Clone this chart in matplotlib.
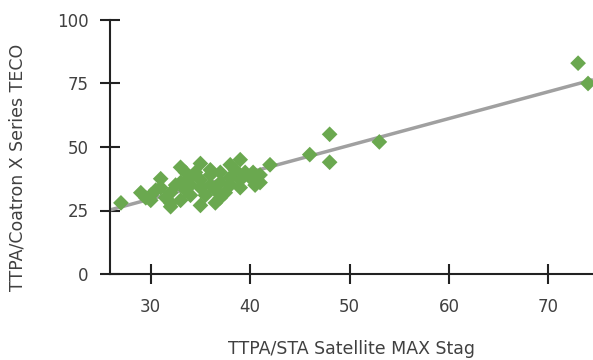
import numpy as np
import matplotlib
matplotlib.use("Agg")
import matplotlib.pyplot as plt

# Data
x_vals = [27, 29, 29.5, 30, 30.5, 31, 31, 31.5, 32, 32, 32.5, 33, 33, 33, 33.5, 34, 34,
          34.5, 35, 35, 35, 35, 35.5, 36, 36, 36.5, 37, 37, 37.5, 38, 38, 38, 38.5, 39,
          39, 39, 39.5, 40, 40.3, 40.5, 41, 41, 42, 33.5, 36, 34, 32, 30, 36.5, 37,
          46, 48, 48, 53, 73, 74]
y_vals = [28, 32, 30, 31, 33, 37.5, 34, 30, 26.5, 32, 35, 42, 29, 36, 33, 38, 31,
          40, 43.5, 27, 34, 37, 31, 39, 35, 33, 40, 36, 32, 43, 38, 35, 41, 45,
          37, 34, 40, 38, 40, 35, 36, 39, 43, 40, 41, 35, 28, 29, 28, 30,
          47, 55, 44, 52, 83, 75]
trend_slope = 1.055
trend_intercept = -2.1

x_ticks = [30, 40, 50, 60, 70]
y_ticks = [0, 25, 50, 75, 100]
x_label = "TTPA/STA Satellite MAX Stag"
y_label = "TTPA/Coatron X Series TECO"

marker_color = "#6aa84f"
line_color = "#a0a0a0"
axis_color = "#222222"
text_color = "#404040"

fig = plt.figure(figsize=(5.93, 3.60), dpi=100)
ax = fig.add_axes([110 / 593, 1 - 274 / 360, 1 - 110 / 593, (274 - 20) / 360])

xlim = (25.9, 74.5)
ax.set_xlim(*xlim)
ax.set_ylim(0, 100)

lx = np.array(xlim)
ax.plot(lx, trend_slope * lx + trend_intercept, color=line_color, lw=2.5, zorder=2,
        solid_capstyle="butt")
ax.scatter(x_vals, y_vals, marker="D", s=8 ** 2, color=marker_color,
           edgecolors="none", zorder=3, clip_on=True)

ax.set_xticks(x_ticks)
ax.set_yticks(y_ticks)
for s in ["top", "right"]:
    ax.spines[s].set_visible(False)
for s in ["left", "bottom"]:
    ax.spines[s].set_color(axis_color)
    ax.spines[s].set_linewidth(1.5)
ax.tick_params(axis="both", direction="inout", length=15, width=1.5,
               color=axis_color, labelsize=12, labelcolor=text_color)
ax.tick_params(axis="y", pad=8)
ax.tick_params(axis="x", pad=10)

ax.set_xlabel(x_label, fontsize=12.5, color=text_color)
ax.set_ylabel(y_label, fontsize=12.5, color=text_color)
ax.xaxis.set_label_coords(0.5, -0.26)
ax.yaxis.set_label_coords(-0.172, 0.42)

fig.savefig("out.png", dpi=100)
